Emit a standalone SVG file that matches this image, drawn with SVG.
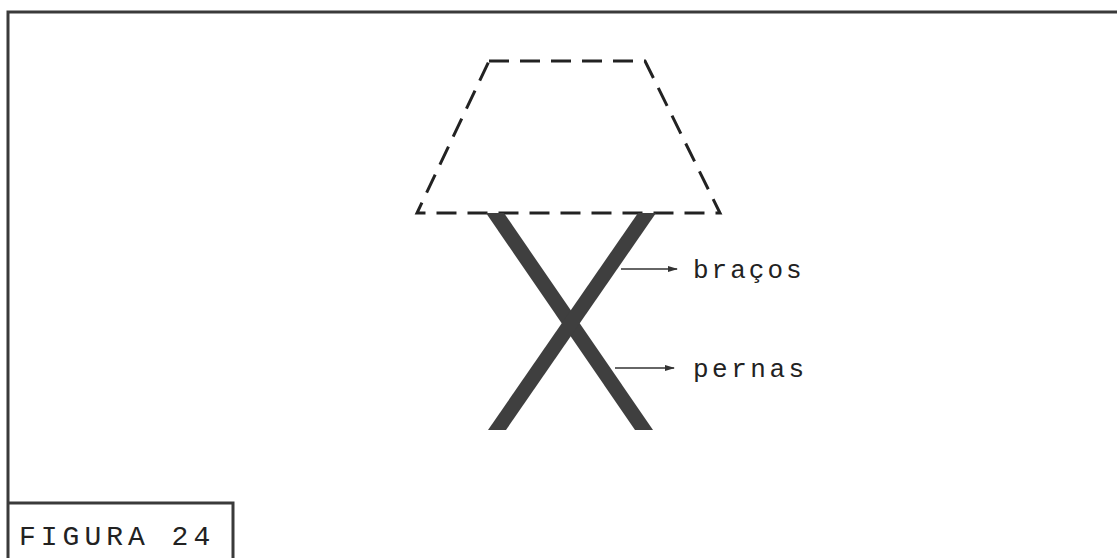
<svg xmlns="http://www.w3.org/2000/svg" width="1117" height="558" viewBox="0 0 1117 558">
<defs>
<style>
.frame{fill:none;stroke:#3a3a3a;stroke-width:3}
.dash{fill:none;stroke:#222;stroke-width:3;stroke-dasharray:20 11}
.bar{fill:#3f3f3f}
.arr{stroke:#333;stroke-width:1.5;fill:none}
.lbl{font-family:"Liberation Mono","DejaVu Sans Mono",monospace;font-size:26px;fill:#222}
</style>
<marker id="ah" markerWidth="10" markerHeight="8" refX="9" refY="4" orient="auto" markerUnits="userSpaceOnUse">
<path d="M0,1 L10,4 L0,7 Z" fill="#333"/>
</marker>
</defs>
<rect width="1117" height="558" fill="#fff"/>
<g id="frame">
<path class="frame" d="M8,558 L8,12 L1117,12"/>
</g>
<g id="shade">
<path class="dash" d="M489,61 L645,61 L720,213 L417,213 Z"/>
</g>
<g id="legs">
<polygon class="bar" points="486,213 504,213 653,430 635,430"/>
<polygon class="bar" points="638,213 656,213 506,430 488,430"/>
</g>
<g id="connectors">
<line class="arr" x1="621" y1="269" x2="677" y2="269" marker-end="url(#ah)"/>
<line class="arr" x1="615" y1="368" x2="674" y2="368" marker-end="url(#ah)"/>
</g>
<g id="label-bracos">
<text class="lbl" x="693" y="278" letter-spacing="3">braços</text>
</g>
<g id="label-pernas">
<text class="lbl" x="693" y="377" letter-spacing="3.5">pernas</text>
</g>
<g id="caption">
<path class="frame" d="M8,503 L233,503 L233,558"/>
<text class="lbl" x="19" y="545" style="font-size:28px" letter-spacing="5">FIGURA 24</text>
</g>
</svg>
